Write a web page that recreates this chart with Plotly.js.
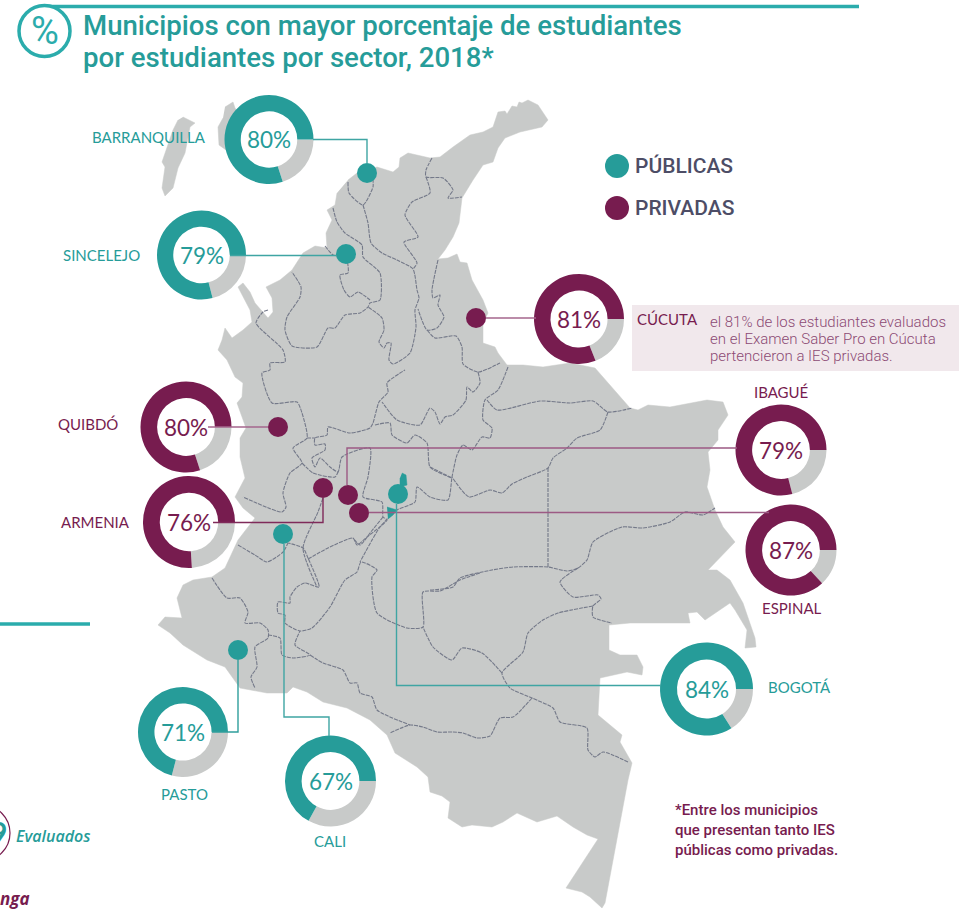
<!DOCTYPE html>
<html><head><meta charset="utf-8">
<script src="https://cdn.plot.ly/plotly-3.0.1.min.js"></script>
<style>html,body{margin:0;padding:0;background:#fff;overflow:hidden}#c{width:963px;height:909px}</style>
</head><body><div id="c"></div>
<script>
const TEAL='#269c99', PURPLE='#771c4f', GREY='#c8cac9';
const cities=['BARRANQUILLA','SINCELEJO','CÚCUTA','QUIBDÓ','ARMENIA','IBAGUÉ','ESPINAL','BOGOTÁ','CALI','PASTO'];
const values=[80,79,81,80,76,79,87,84,67,71];
const sectors=['pub','pub','priv','priv','priv','priv','priv','pub','pub','pub'];
const donutX=[269,201.5,579,186,189,781,791,706.5,330.5,183];
const donutY=[139.5,255,319,427,522,450,550,689,781,732];
const donutR=[44.5,44.5,45,45.5,46,45.5,45.5,46.5,45.5,45];
const dotX=[367,346,476,278,323,348,359,398,283,238];
const dotY=[173,254,318,427,488,495,513,494,534,650];
const labelX=[148.5,101,667,88,95,781,792,799,330,184];
const labelY=[137,255,319,424,522,392,608,687,841,794];
const connectors=[
 [[313,139.5],[367,139.5],[367,163]],
 [[230,255.5],[336,255.5]],
 [[486,318],[536,318]],
 [[208,427],[268,427]],
 [[213,522.5],[323,522.5],[323,498]],
 [[347,485],[347,448],[737,448]],
 [[369,512.5],[769,512.5]],
 [[396.5,504],[396.5,685.5],[661,685.5]],
 [[284,544],[284,717],[329,717],[329,736]],
 [[238,660],[238,732],[212,732]]];
const connectorColor=['#3fa5a3','#3fa5a3','#a5668c','#a5668c','#7f2a5a','#9c5a84','#9c5a84','#3fa5a3','#3fa5a3','#2f9f9c'];

const mainland=[[348,180],[357,173],[377,167],[393,172],[399,167],[400,158],[408,153],[430,158],[440,157],[453,147],[470,135],[483,132],[493,127],[498,112],[505,111],[507,114],[512,106],[517,107],[519,102],[522,103],[528,100],[538,105],[548,120],[542,127],[520,132],[505,138],[498,148],[493,162],[483,165],[473,180],[462,198],[459,223],[453,237],[445,250],[438,259],[448,258],[457,254],[460,262],[467,263],[472,280],[483,300],[488,313],[483,323],[483,343],[495,347],[498,353],[507,365],[523,365],[543,367],[570,363],[595,368],[630,408],[638,410],[648,405],[670,407],[707,400],[723,402],[728,415],[718,430],[718,440],[708,452],[710,470],[707,487],[715,510],[723,527],[735,542],[708,570],[717,570],[730,580],[743,603],[755,638],[756,647],[745,648],[747,630],[735,610],[730,603],[705,620],[697,612],[688,613],[690,623],[630,623],[609,625],[609,650],[620,655],[637,655],[643,667],[642,675],[627,672],[600,678],[598,715],[622,735],[620,742],[632,763],[628,780],[605,903],[602,908],[590,897],[582,892],[566,888],[598,839],[587,835],[573,827],[557,816],[537,822],[517,813],[503,822],[492,827],[472,825],[462,827],[448,818],[450,802],[442,796],[430,792],[428,777],[417,767],[395,753],[387,735],[370,720],[347,708],[323,702],[307,692],[293,687],[287,693],[267,693],[240,688],[225,667],[207,660],[183,645],[170,633],[158,625],[165,617],[182,618],[177,598],[183,585],[193,580],[212,577],[225,568],[238,540],[255,518],[243,508],[235,497],[245,478],[240,457],[240,438],[246,428],[237,403],[242,397],[243,383],[235,377],[227,360],[218,350],[222,340],[225,328],[232,338],[243,330],[252,322],[250,310],[243,297],[238,287],[243,283],[250,292],[255,303],[263,312],[268,318],[273,312],[272,298],[266,287],[280,280],[292,270],[303,253],[315,246],[327,248],[326,233],[332,220],[327,210],[335,205],[337,193]];
const sanAndres=[[183,117],[195,123],[190,127],[185,153],[178,168],[173,188],[165,196],[162,188],[165,167],[162,162],[173,130],[178,120]];
const providencia=[[225,107],[233,102],[235,108],[240,115],[240,140],[226,150],[219,145],[218,127],[223,118]];
const bogotaShape1=[[402,473],[406,475],[407,485],[400,487],[400,478]];
const bogotaShape2=[[387,507],[397,510],[393,515],[388,519]];
const borders=[
 [[348,182],[349,193],[363,205],[373,187],[373,180]],
 [[363,205],[368,223],[371,243],[382,253],[397,260],[413,269],[417,290],[419,298],[415,310],[416,327],[410,353],[393,364],[389,360],[391,343],[387,343],[384,348],[379,342],[384,330],[382,318],[368,307]],
 [[333,208],[337,222],[345,233],[362,245],[363,257],[380,273],[380,300],[370,303],[368,307],[360,313],[345,315],[335,328],[328,328],[317,347],[292,346],[285,330],[287,317],[300,297],[301,287],[292,272]],
 [[325,246],[333,255],[346,258],[348,273],[340,275],[344,290],[350,297],[358,292],[370,300]],
 [[432,158],[426,170],[426,177],[443,178],[453,190],[448,198],[462,197]],
 [[426,177],[430,193],[412,202],[405,215],[418,237],[404,242],[417,263],[413,269]],
 [[438,260],[432,290],[433,298],[440,295],[438,305],[444,317],[437,328],[427,330],[418,309]],
 [[427,330],[435,338],[456,336],[462,347],[463,364],[478,372],[500,363]],
 [[478,372],[480,383],[473,392],[467,387],[466,400],[453,415],[445,417],[440,424],[435,412],[430,408],[420,425],[397,420],[382,402]],
 [[508,367],[498,390],[485,400],[483,420],[492,428],[490,438],[482,437],[472,450],[463,445],[457,455],[452,477],[448,500],[430,497],[417,487],[415,502],[397,510],[380,527],[360,562]],
 [[487,400],[497,410],[540,401],[570,403],[593,401],[608,412],[632,408]],
 [[608,412],[600,430],[577,438],[567,448],[553,458],[548,468],[527,477],[512,484],[502,493],[490,490],[469,497],[452,477]],
 [[548,468],[548,567]],
 [[430,467],[452,478]],
 [[430,590],[453,587],[460,578],[492,570],[513,567],[548,567],[567,571],[578,568],[587,560],[593,542],[622,527],[643,528],[670,522],[685,512],[703,515],[715,508]],
 [[578,568],[560,582],[573,597],[598,595],[601,599],[593,606],[593,617],[612,623]],
 [[593,606],[558,613],[543,620],[528,633],[523,652],[502,673],[510,688],[532,698],[553,708],[560,722],[587,728],[588,750],[595,757],[603,752],[628,762]],
 [[532,698],[513,717],[500,718],[490,736],[477,738],[463,733],[453,732],[437,732],[423,727],[410,725],[390,733]],
 [[502,673],[482,653],[462,648],[452,660],[433,647],[423,627]],
 [[480,573],[460,580],[440,591],[423,592],[423,627],[407,628],[377,613],[372,577],[377,570],[361,562],[357,572],[345,580],[330,607],[312,628],[300,631],[285,623],[285,615],[278,613],[278,602],[290,603],[290,597],[297,587],[305,583],[319,587],[308,558],[303,548],[288,543]],
 [[308,559],[328,548],[353,538],[357,545],[367,537],[387,520],[383,517],[382,502],[363,497],[368,477],[370,448],[342,457],[338,472],[330,467],[320,458],[315,467],[312,458],[325,450],[325,444],[315,445],[315,438],[327,435],[328,427],[350,433],[370,428],[373,423],[379,402],[388,392],[387,383],[405,370]],
 [[212,578],[227,598],[240,598],[248,612],[245,623],[260,623],[268,630],[268,638],[255,647],[257,667],[251,677],[255,688]],
 [[268,635],[280,638],[282,655],[293,658],[310,655],[295,645],[300,631]],
 [[310,655],[323,663],[343,670],[350,683],[357,683],[360,693],[372,697],[377,710],[410,725]],
 [[238,545],[255,555],[267,562],[283,552],[288,543]],
 [[268,310],[263,312],[256,323],[283,350],[285,362],[270,363],[270,370],[262,373],[272,403],[297,402],[302,413],[307,438],[293,448],[302,463],[290,473],[283,493],[286,507],[282,512],[243,497]],
 [[302,463],[313,473],[335,477],[338,472]],
 [[307,438],[315,438]],
 [[375,425],[390,423],[392,435],[407,443],[415,435],[427,443],[430,467],[452,478]],
 [[323,498],[318,512],[303,548],[317,587]],
 [[370,533],[360,545],[353,538]],
 [[383,517],[370,533]]
];
const legendItems=['PÚBLICAS','PRIVADAS'];
const legendY=[166,208];
const titleLines=['Municipios con mayor porcentaje de estudiantes','por estudiantes por sector, 2018*'];
const titleY=[25,57];
const footnote=['*Entre los municipios','que presentan tanto IES','públicas como privadas.'];
const footY=[810,830,850];
const cucutaNote=['el 81% de los estudiantes evaluados','en el Examen Saber Pro en Cúcuta','pertencieron a IES privadas.'];
const cucutaY=[322,339,356];

const W=963,H=909;
const col=s=>s==='pub'?TEAL:PURPLE;
const traces=[];
const fillTrace=(pts,c)=>({type:'scatter',mode:'lines',x:pts.map(p=>p[0]),y:pts.map(p=>p[1]),fill:'toself',fillcolor:c,line:{color:c,width:0.5},hoverinfo:'skip',showlegend:false});
traces.push(fillTrace(mainland,GREY),fillTrace(sanAndres,GREY),fillTrace(providencia,GREY));
borders.forEach(b=>traces.push({type:'scatter',mode:'lines',x:b.map(p=>p[0]),y:b.map(p=>p[1]),line:{color:'#747989',width:1.1,dash:'4px,1px',shape:'spline',smoothing:0.6},hoverinfo:'skip',showlegend:false}));
traces.push(fillTrace(bogotaShape1,TEAL),fillTrace(bogotaShape2,TEAL));
traces.push({type:'scatter',mode:'markers',x:dotX,y:dotY,text:cities,marker:{size:20,color:sectors.map(col),line:{width:0}},hoverinfo:'text',showlegend:false});
traces.push({type:'scatter',mode:'markers',x:[617,617],y:legendY,text:legendItems,marker:{size:24,color:[TEAL,PURPLE],line:{width:0}},hoverinfo:'text',showlegend:false});
cities.forEach((c,i)=>{
 traces.push({type:'pie',values:[100-values[i],values[i]],labels:['otro',sectors[i]],name:c,sort:false,direction:'clockwise',rotation:90,hole:0.635,textinfo:'none',hoverinfo:'skip',showlegend:false,
  marker:{colors:[GREY,col(sectors[i])],line:{width:0}},
  domain:{x:[(donutX[i]-donutR[i])/W,(donutX[i]+donutR[i])/W],y:[1-(donutY[i]+donutR[i])/H,1-(donutY[i]-donutR[i])/H]}});
});
const ann=(x,y,text,font,o={})=>Object.assign({xref:'x',yref:'y',x,y,text,showarrow:false,xanchor:'center',yanchor:'middle',font},o);
const annotations=[];
cities.forEach((c,i)=>{
 annotations.push(ann(donutX[i],donutY[i],values[i]+'%',{family:'Lato',size:22.5,color:col(sectors[i]),weight:400}));
 annotations.push(ann(labelX[i],labelY[i],c,{family:'Lato',size:15,color:col(sectors[i]),weight:400}));
});
legendItems.forEach((t,i)=>annotations.push(ann(633,legendY[i],t,{family:'Roboto',size:21,color:'#4d4d66',weight:500},{xanchor:'left'})));
cucutaNote.forEach((t,i)=>annotations.push(ann(708,cucutaY[i],t,{family:'Roboto',size:15,color:'#8c4a74',weight:300},{xanchor:'left'})));
footnote.forEach((t,i)=>annotations.push(ann(673,footY[i],t,{family:'Roboto',size:15,color:PURPLE,weight:500},{xanchor:'left'})));
annotations.push(ann(45,31,'%',{family:'Roboto',size:38,color:'#2bacac'}));
titleLines.forEach((t,i)=>annotations.push(ann(81,titleY[i],t,{family:'Roboto',size:27.6,color:TEAL,weight:500},{xanchor:'left'})));
annotations.push(ann(9,832,'9',{family:'Lato',size:30,color:TEAL,weight:700},{xanchor:'right'}));
annotations.push(ann(14,836,'Evaluados',{family:'Open Sans',size:16,color:TEAL,style:'italic',weight:600},{xanchor:'left'}));
annotations.push(ann(0,898,'nga',{family:'Open Sans',size:17,color:PURPLE,style:'italic',weight:700},{xanchor:'left',xshift:-2}));

const shapes=[
 {type:'rect',xref:'x',yref:'y',x0:632,x1:959,y0:305,y1:371,fillcolor:'#f1e8ec',line:{width:0},layer:'below'},
 {type:'line',xref:'x',yref:'y',x0:47,x1:859,y0:6.5,y1:6.5,line:{color:'#2bacac',width:3.5},layer:'below'},
 {type:'circle',xref:'x',yref:'y',x0:19,x1:70,y0:5.5,y1:56.5,line:{color:'#2bacac',width:3.5},fillcolor:'#fff',layer:'above'},
 {type:'line',xref:'x',yref:'y',x0:0,x1:90,y0:624,y1:624,line:{color:'#2bacac',width:3.5},layer:'below'},
 {type:'circle',xref:'x',yref:'y',x0:-46,x1:10,y0:805,y1:861,line:{color:PURPLE,width:1.2},layer:'below'}
];
connectors.forEach((p,i)=>shapes.push({type:'path',xref:'x',yref:'y',path:p.map((q,j)=>(j?'L':'M')+q[0]+' '+q[1]).join(' '),line:{color:connectorColor[i],width:1.4},layer:'above'}));

Plotly.newPlot('c',traces,{
 width:W,height:H,margin:{l:0,r:0,t:0,b:0},paper_bgcolor:'#fff',plot_bgcolor:'rgba(0,0,0,0)',showlegend:false,
 xaxis:{range:[0,W],visible:false,fixedrange:true},
 yaxis:{range:[H,0],visible:false,fixedrange:true},
 annotations,shapes
},{displayModeBar:false,responsive:false});
</script></body></html>
